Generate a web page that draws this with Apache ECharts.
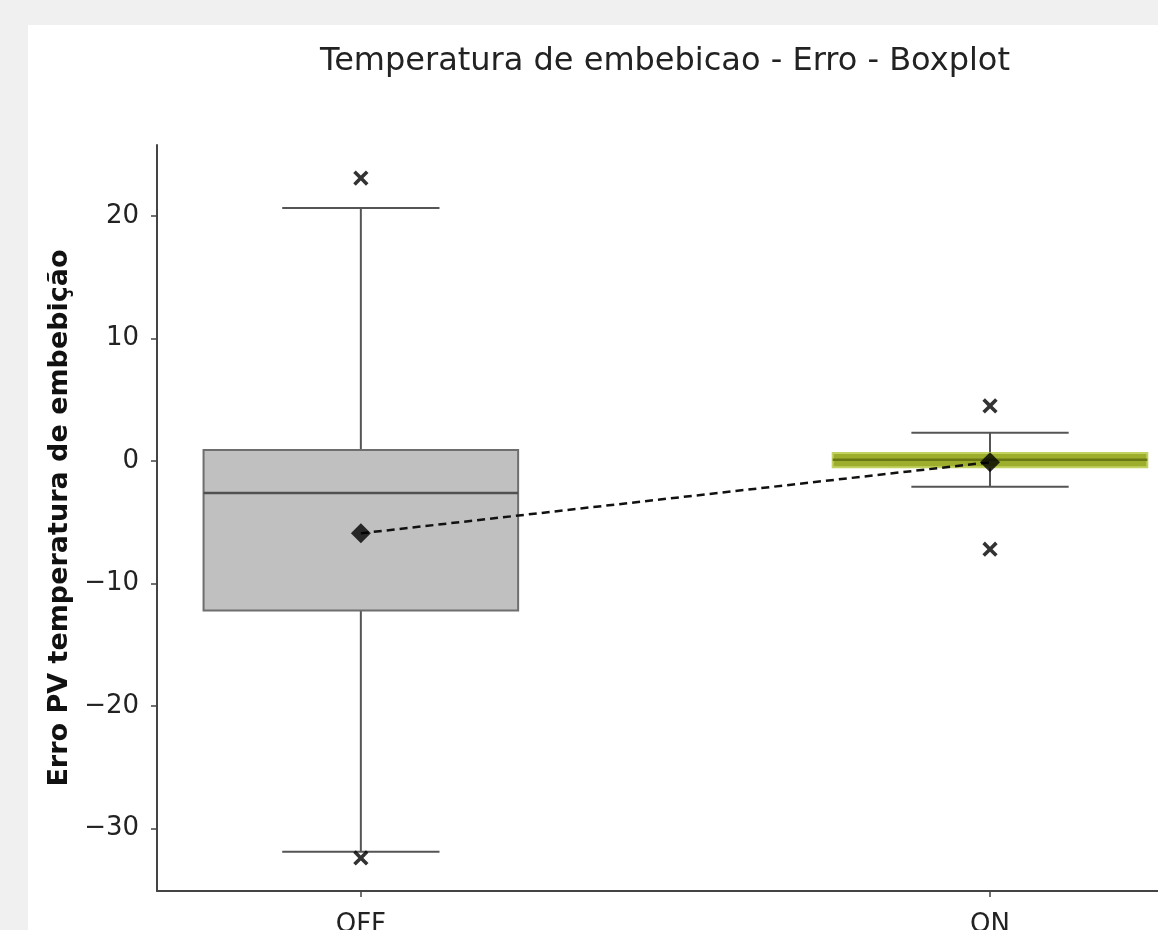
<!DOCTYPE html>
<html>
<head>
<meta charset="utf-8">
<script src="https://cdn.jsdelivr.net/npm/echarts@6/dist/echarts.min.js"></script>
<style>
html,body{margin:0;padding:0;background:#f0f0f0;}
#chart{width:1158px;height:930px;}
</style>
</head>
<body>
<div id="chart"></div>
<script>
// ---- data ----
const categories = ['OFF', 'ON'];
const categoryPos = [0, 1];
const whiskerLow = [-31.9, -2.1];
const q1 = [-12.2, -0.5];
const median = [-2.6, 0.1];
const q3 = [0.9, 0.65];
const whiskerHigh = [20.65, 2.3];
const means = [-5.9, -0.1];
const outliersOFF = [23.1, -32.4];
const outliersON = [4.5, -7.2];
const yTicks = [-30, -20, -10, 0, 10, 20];

const boxFill = ['#c0c0c0', '#9dad2c'];
const boxEdge = ['#6e6e6e', '#c3d160'];
const medianColor = ['#505050', '#6a7814'];

const boxData = categoryPos.map((p, i) => [p, whiskerLow[i], q1[i], median[i], q3[i], whiskerHigh[i]]);
const outlierData = []
  .concat(outliersOFF.map(v => [categoryPos[0], v]))
  .concat(outliersON.map(v => [categoryPos[1], v]));
const meanData = categoryPos.map((p, i) => [p, means[i]]);

const chart = echarts.init(document.getElementById('chart'), null, {renderer: 'canvas'});

const BOX_HALF = 0.25, CAP_HALF = 0.125;

function renderBox(params, api) {
  const i = params.dataIndex;
  const x = api.value(0);
  const lo = api.value(1), b = api.value(2), m = api.value(3), t = api.value(4), hi = api.value(5);
  const pL = api.coord([x - BOX_HALF, t]);
  const pR = api.coord([x + BOX_HALF, b]);
  const cL = api.coord([x - CAP_HALF, hi])[0];
  const cR = api.coord([x + CAP_HALF, hi])[0];
  const cx = api.coord([x, 0])[0];
  const yHi = api.coord([x, hi])[1], yLo = api.coord([x, lo])[1];
  const yT = pL[1], yB = pR[1], yM = api.coord([x, m])[1];
  const wStyle = {stroke: '#555555', lineWidth: 2};
  return {
    type: 'group',
    children: [
      {type: 'line', shape: {x1: cx, y1: yHi, x2: cx, y2: yT}, style: wStyle},
      {type: 'line', shape: {x1: cx, y1: yB, x2: cx, y2: yLo}, style: wStyle},
      {type: 'line', shape: {x1: cL, y1: yHi, x2: cR, y2: yHi}, style: wStyle},
      {type: 'line', shape: {x1: cL, y1: yLo, x2: cR, y2: yLo}, style: wStyle},
      {type: 'rect', shape: {x: pL[0], y: yT, width: pR[0] - pL[0], height: yB - yT},
        style: {fill: boxFill[i], stroke: boxEdge[i], lineWidth: 2}},
      {type: 'line', shape: {x1: pL[0], y1: yM, x2: pR[0], y2: yM},
        style: {stroke: medianColor[i], lineWidth: 2.5}}
    ]
  };
}

const option = {
  backgroundColor: '#f0f0f0',
  animation: false,
  graphic: [{
    type: 'rect', z: -10, silent: true,
    shape: {x: 28, y: 25, width: 1130, height: 905},
    style: {fill: '#ffffff'}
  }],
  title: {
    text: 'Temperatura de embebicao - Erro - Boxplot',
    left: 660, top: 41, textAlign: 'center',
    textStyle: {fontFamily: 'DejaVu Sans', fontSize: 32, fontWeight: 'normal', color: '#222'}
  },
  grid: {left: 157, top: 145, right: 0, bottom: 39, containLabel: false, outerBoundsMode: 'none'},
  xAxis: {
    type: 'value', min: -0.324, max: 1.267,
    splitLine: {show: false},
    axisLine: {show: true, onZero: false, lineStyle: {color: '#444', width: 2}},
    axisTick: {show: true, customValues: categoryPos, length: 6, lineStyle: {color: '#444', width: 1.5}},
    axisLabel: {
      customValues: categoryPos, margin: 21,
      formatter: v => categories[Math.round(v)],
      fontFamily: 'DejaVu Sans', fontSize: 26, color: '#222'
    }
  },
  yAxis: {
    type: 'value', min: -35.1, max: 25.8,
    splitLine: {show: false},
    axisLine: {show: true, onZero: false, lineStyle: {color: '#444', width: 2}},
    axisTick: {show: true, customValues: yTicks, length: 6, lineStyle: {color: '#444', width: 1.5}},
    axisLabel: {
      customValues: yTicks, margin: 18,
      formatter: v => (v < 0 ? '\u2212' + Math.abs(v) : String(v)),
      fontFamily: 'DejaVu Sans', fontSize: 26, color: '#222'
    },
    name: 'Erro PV temperatura de embebição',
    nameLocation: 'middle', nameRotate: 90, nameGap: 74,
    nameTextStyle: {fontFamily: 'DejaVu Sans', fontSize: 27, fontWeight: 'bold', color: '#111'}
  },
  series: [
    {
      type: 'custom', renderItem: renderBox, data: boxData,
      encode: {x: 0, y: [1, 2, 3, 4, 5]}, z: 2
    },
    {
      type: 'line', data: meanData, symbol: 'none', z: 3,
      lineStyle: {color: '#111', width: 2.5, type: [8, 5]}
    },
    {
      type: 'scatter', data: meanData, symbol: 'diamond', symbolSize: 20, z: 4,
      itemStyle: {color: '#000'}
    },
    {
      type: 'scatter', data: outlierData, z: 4,
      symbol: 'path://M4,0 L6,0 L6,4 L10,4 L10,6 L6,6 L6,10 L4,10 L4,6 L0,6 L0,4 L4,4 Z',
      symbolRotate: 45, symbolSize: 18,
      itemStyle: {color: '#000'}
    }
  ]
};
chart.setOption(option);
</script>
</body>
</html>
